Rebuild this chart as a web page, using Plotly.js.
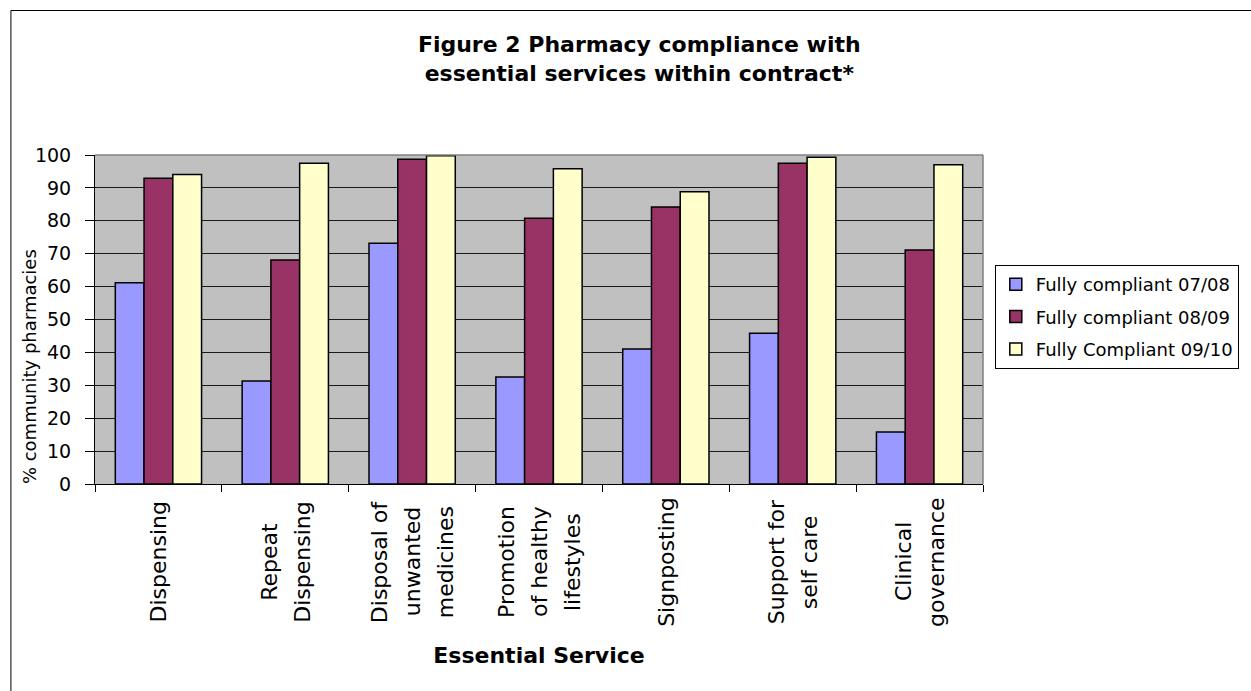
<!DOCTYPE html>
<html>
<head>
<meta charset="utf-8">
<script src="https://cdn.plot.ly/plotly-3.0.1.min.js"></script>
<style>
  html, body { margin: 0; padding: 0; background: #ffffff; }
  #chart { width: 1251px; height: 691px; }
</style>
</head>
<body>
<div id="chart"></div>
<script>
// ---- data ----
var categories = ["Dispensing", "Repeat Dispensing", "Disposal of unwanted medicines",
  "Promotion of healthy lifestyles", "Signposting", "Support for self care", "Clinical governance"];
var categoryLabels = ["Dispensing", "Repeat<br>Dispensing", "Disposal of<br>unwanted<br>medicines",
  "Promotion<br>of healthy<br>lifestyles", "Signposting", "Support for<br>self care", "Clinical<br>governance"];
var seriesNames = ["Fully compliant 07/08", "Fully compliant 08/09", "Fully Compliant 09/10"];
var compliant0708 = [61.2, 31.3, 73.2, 32.5, 41.0, 45.8, 15.8];
var compliant0809 = [92.9, 68.1, 98.7, 80.8, 84.2, 97.5, 71.1];
var compliant0910 = [94.1, 97.5, 99.8, 95.8, 88.8, 99.3, 97.0];
var yTickValues = [0, 10, 20, 30, 40, 50, 60, 70, 80, 90, 100];

var colors = ["#9999FF", "#993366", "#FFFFCC"];
var seriesValues = [compliant0708, compliant0809, compliant0910];
var FONT = "DejaVu Sans, Arial, sans-serif";

var traces = seriesValues.map(function (vals, i) {
  return {
    type: "bar",
    name: seriesNames[i],
    x: categories,
    y: vals,
    legendgroup: "g" + i,
    marker: { color: colors[i], line: { color: "#000000", width: 1.5 } },
    hoverinfo: "x+y+name"
  };
});

// plot area in pixels: left 95, right 998, top 155, bottom 484
var L = 95, R = 998, T = 155, B = 484;
var W = R - L, H = B - T;
function px2x(px) { return (px - L) / W; }
function px2y(py) { return (B - py) / H; }

var annotations = [];
var LINE_STEP = 33;
categories.forEach(function (c, i) {
  var lines = categoryLabels[i].split("<br>");
  var n = lines.length;
  lines.forEach(function (ln, j) {
    annotations.push({
      xref: "x", yref: "paper",
      x: c, y: px2y(562),
      xshift: (j - (n - 1) / 2) * LINE_STEP,
      text: ln,
      textangle: -90,
      showarrow: false,
      xanchor: "center", yanchor: "middle",
      font: { family: FONT, size: 22, color: "#000000" }
    });
  });
});
annotations.push({
  xref: "paper", yref: "paper",
  x: px2x(28), y: px2y(367),
  text: "% community pharmacies",
  textangle: -90,
  showarrow: false,
  xanchor: "center", yanchor: "middle",
  font: { family: FONT, size: 18, color: "#000000" }
});

var layout = {
  width: 1251, height: 691,
  margin: { l: L, r: 1251 - R, t: T, b: 691 - B, pad: 0 },
  paper_bgcolor: "#ffffff",
  plot_bgcolor: "#C0C0C0",
  barmode: "group",
  bargap: 0.32,
  bargroupgap: 0,
  font: { family: FONT, color: "#000000" },
  title: {
    text: "<b>Figure 2 Pharmacy compliance with<br>essential services within contract*</b>",
    x: 0.511, xref: "container", xanchor: "center",
    y: 1 - 52 / 691, yref: "container", yanchor: "top",
    font: { family: FONT, size: 22, color: "#000000" }
  },
  xaxis: {
    type: "category",
    showticklabels: false,
    tickson: "boundaries",
    ticks: "outside", ticklen: 7, tickcolor: "#000000", tickwidth: 1,
    showline: true, linecolor: "#000000", linewidth: 1,
    showgrid: false, zeroline: false,
    title: {
      text: "<b>Essential Service</b>",
      standoff: 163,
      font: { family: FONT, size: 22, color: "#000000" }
    }
  },
  yaxis: {
    range: [0, 100],
    tickvals: yTickValues,
    ticks: "outside", ticklen: 9, tickcolor: "#000000", tickwidth: 1,
    ticklabelstandoff: 10,
    tickfont: { family: FONT, size: 19, color: "#000000" },
    showline: true, linecolor: "#000000", linewidth: 1,
    showgrid: true, gridcolor: "#1a1a1a", gridwidth: 1,
    zeroline: false
  },
  legend: {
    x: px2x(1010), y: px2y(265),
    xanchor: "left", yanchor: "top",
    bgcolor: "#ffffff",
    bordercolor: "#000000", borderwidth: 1,
    tracegroupgap: 6,
    font: { family: FONT, size: 18, color: "#000000" }
  },
  annotations: annotations,
  shapes: [
    { type: "line", xref: "paper", yref: "paper", x0: 0, x1: 1, y0: 1, y1: 1,
      line: { color: "#808080", width: 1.5 }, layer: "above" },
    { type: "line", xref: "paper", yref: "paper", x0: 1, x1: 1, y0: 0, y1: 1,
      line: { color: "#808080", width: 1.5 }, layer: "above" },
    { type: "rect", xref: "paper", yref: "paper",
      x0: px2x(9.5), x1: px2x(1320), y0: px2y(720), y1: px2y(10.5),
      line: { color: "#000000", width: 1 }, fillcolor: "rgba(0,0,0,0)", layer: "below" }
  ],
  showlegend: true
};

Plotly.newPlot("chart", traces, layout, { displayModeBar: false, staticPlot: true });
</script>
</body>
</html>
